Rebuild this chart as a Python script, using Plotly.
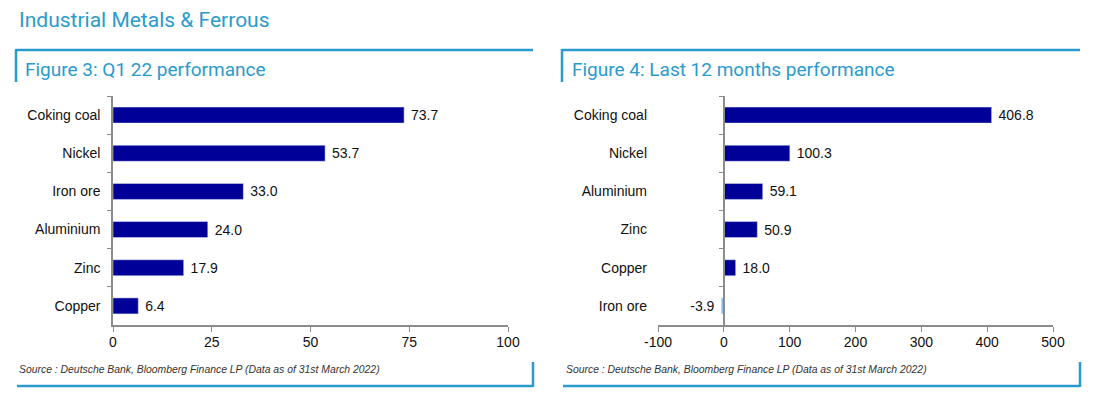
import plotly.graph_objects as go

# ---- data ----
q1_categories = ["Coking coal", "Nickel", "Iron ore", "Aluminium", "Zinc", "Copper"]
q1_values = [73.7, 53.7, 33.0, 24.0, 17.9, 6.4]

m12_categories = ["Coking coal", "Nickel", "Aluminium", "Zinc", "Copper", "Iron ore"]
m12_values = [406.8, 100.3, 59.1, 50.9, 18.0, -3.9]

q1_ticks = [0, 25, 50, 75, 100]
m12_ticks = [-100, 0, 100, 200, 300, 400, 500]

main_title = "Industrial Metals & Ferrous"
fig3_title = "Figure 3: Q1 22 performance"
fig4_title = "Figure 4: Last 12 months performance"
source_text = "Source : Deutsche Bank, Bloomberg Finance LP (Data as of 31st March 2022)"

# ---- style ----
W, H = 1105, 412
PAGE_OFF = 8          # page body offset of the figure
NAVY = "#000098"
NEG = "#8ab8e6"
DB_BLUE = "#2a9bcc"
AXIS = "#8c8c8c"
FONT = "Liberation Sans, Arial, sans-serif"
TITLE_FONT = "Roboto, Open Sans, sans-serif"
NB = "\u00a0"


def px_x(p):
    return (p - PAGE_OFF) / W


def px_y(p):
    return 1 - (p - PAGE_OFF) / H


def bar_label(v):
    s = f"{v:.1f}"
    return NB + s if v >= 0 else s + NB


x1_dom = [px_x(113), px_x(508)]
x2_dom = [px_x(658), px_x(1053)]
y_dom = [px_y(325), px_y(96)]

fig = go.Figure()

fig.add_trace(go.Bar(
    x=q1_values, y=q1_categories, orientation="h",
    marker_color=NAVY, text=[bar_label(v) for v in q1_values],
    textposition="outside", textfont=dict(family=FONT, size=14, color="#111"),
    cliponaxis=False, xaxis="x", yaxis="y", showlegend=False,
))

fig.add_trace(go.Bar(
    x=m12_values, y=m12_categories, orientation="h",
    marker_color=[NAVY if v >= 0 else NEG for v in m12_values],
    text=[bar_label(v) for v in m12_values],
    textposition="outside", textfont=dict(family=FONT, size=14, color="#111"),
    cliponaxis=False, xaxis="x2", yaxis="y2", showlegend=False,
))

# invisible trace carrying the zero-position category axis of figure 4
fig.add_trace(go.Scatter(x=[None], y=[None], xaxis="x2", yaxis="y3",
                         mode="markers", showlegend=False, hoverinfo="skip"))

xr2 = [m12_ticks[0], m12_ticks[-1]]
zero_pos = x2_dom[0] + (0 - xr2[0]) / (xr2[1] - xr2[0]) * (x2_dom[1] - x2_dom[0])

common_x = dict(showgrid=False, zeroline=False, showline=True, linecolor=AXIS,
                linewidth=1.5, ticks="outside", tickcolor=AXIS, ticklen=5,
                automargin=False, ticklabelstandoff=-2,
                tickfont=dict(family=FONT, size=14, color="#111"))

fig.update_layout(
    width=W, height=H, autosize=False, margin=dict(l=0, r=0, t=0, b=0, pad=0),
    paper_bgcolor="white", plot_bgcolor="white",
    bargap=0.58,
    xaxis=dict(domain=x1_dom, range=[q1_ticks[0], q1_ticks[-1]], tickvals=q1_ticks,
               ticktext=[str(t) for t in q1_ticks], anchor="y", **common_x),
    yaxis=dict(domain=y_dom, autorange="reversed", anchor="x", type="category",
               showgrid=False, showline=True, linecolor=AXIS, linewidth=1.5,
               ticks="outside", tickson="boundaries", ticklen=4, tickcolor=AXIS,
               ticklabelstandoff=8, automargin=False,
               tickfont=dict(family=FONT, size=14, color="#111")),
    xaxis2=dict(domain=x2_dom, range=xr2, tickvals=m12_ticks,
                ticktext=[str(t) for t in m12_ticks], anchor="y2", **common_x),
    yaxis2=dict(domain=y_dom, autorange="reversed", anchor="x2", type="category",
                showgrid=False, showline=False, ticks="", ticklabelstandoff=10,
                automargin=False,
                tickfont=dict(family=FONT, size=14, color="#111")),
    yaxis3=dict(overlaying="y2", anchor="free", position=zero_pos,
                range=[len(m12_categories) - 0.5, -0.5],
                tickvals=[i - 0.5 for i in range(len(m12_categories) + 1)],
                showticklabels=False, showgrid=False, zeroline=False,
                showline=True, linecolor=AXIS, linewidth=1.5, automargin=False,
                ticks="outside", ticklen=4, tickcolor=AXIS),
)

# titles and source texts
fig.add_annotation(text=main_title, x=px_x(17), y=px_y(20), xref="paper", yref="paper",
                   xanchor="left", yanchor="middle", showarrow=False,
                   font=dict(family=TITLE_FONT, size=21, color=DB_BLUE))
for lx, title in [(23, fig3_title), (570, fig4_title)]:
    fig.add_annotation(text=title, x=px_x(lx), y=px_y(70), xref="paper", yref="paper",
                       xanchor="left", yanchor="middle", showarrow=False,
                       font=dict(family=TITLE_FONT, size=19, color=DB_BLUE))
for lx in [17, 564]:
    fig.add_annotation(text=f"<i>{source_text}</i>", x=px_x(lx), y=px_y(369),
                       xref="paper", yref="paper", xanchor="left", yanchor="middle",
                       showarrow=False, font=dict(family=FONT, size=10.4, color="#333"))

# panel frames
for left, right in [(16, 533), (562, 1080)]:
    line = dict(color=DB_BLUE, width=2.5)
    fig.add_shape(type="line", xref="paper", yref="paper", x0=px_x(left), x1=px_x(right),
                  y0=px_y(50), y1=px_y(50), line=line)
    fig.add_shape(type="line", xref="paper", yref="paper", x0=px_x(left), x1=px_x(left),
                  y0=px_y(49), y1=px_y(82), line=line)
    fig.add_shape(type="line", xref="paper", yref="paper", x0=px_x(left + 1), x1=px_x(right),
                  y0=px_y(386), y1=px_y(386), line=line)
    fig.add_shape(type="line", xref="paper", yref="paper", x0=px_x(right), x1=px_x(right),
                  y0=px_y(362), y1=px_y(387), line=line)

fig.write_html("out.html", config={"responsive": False})
